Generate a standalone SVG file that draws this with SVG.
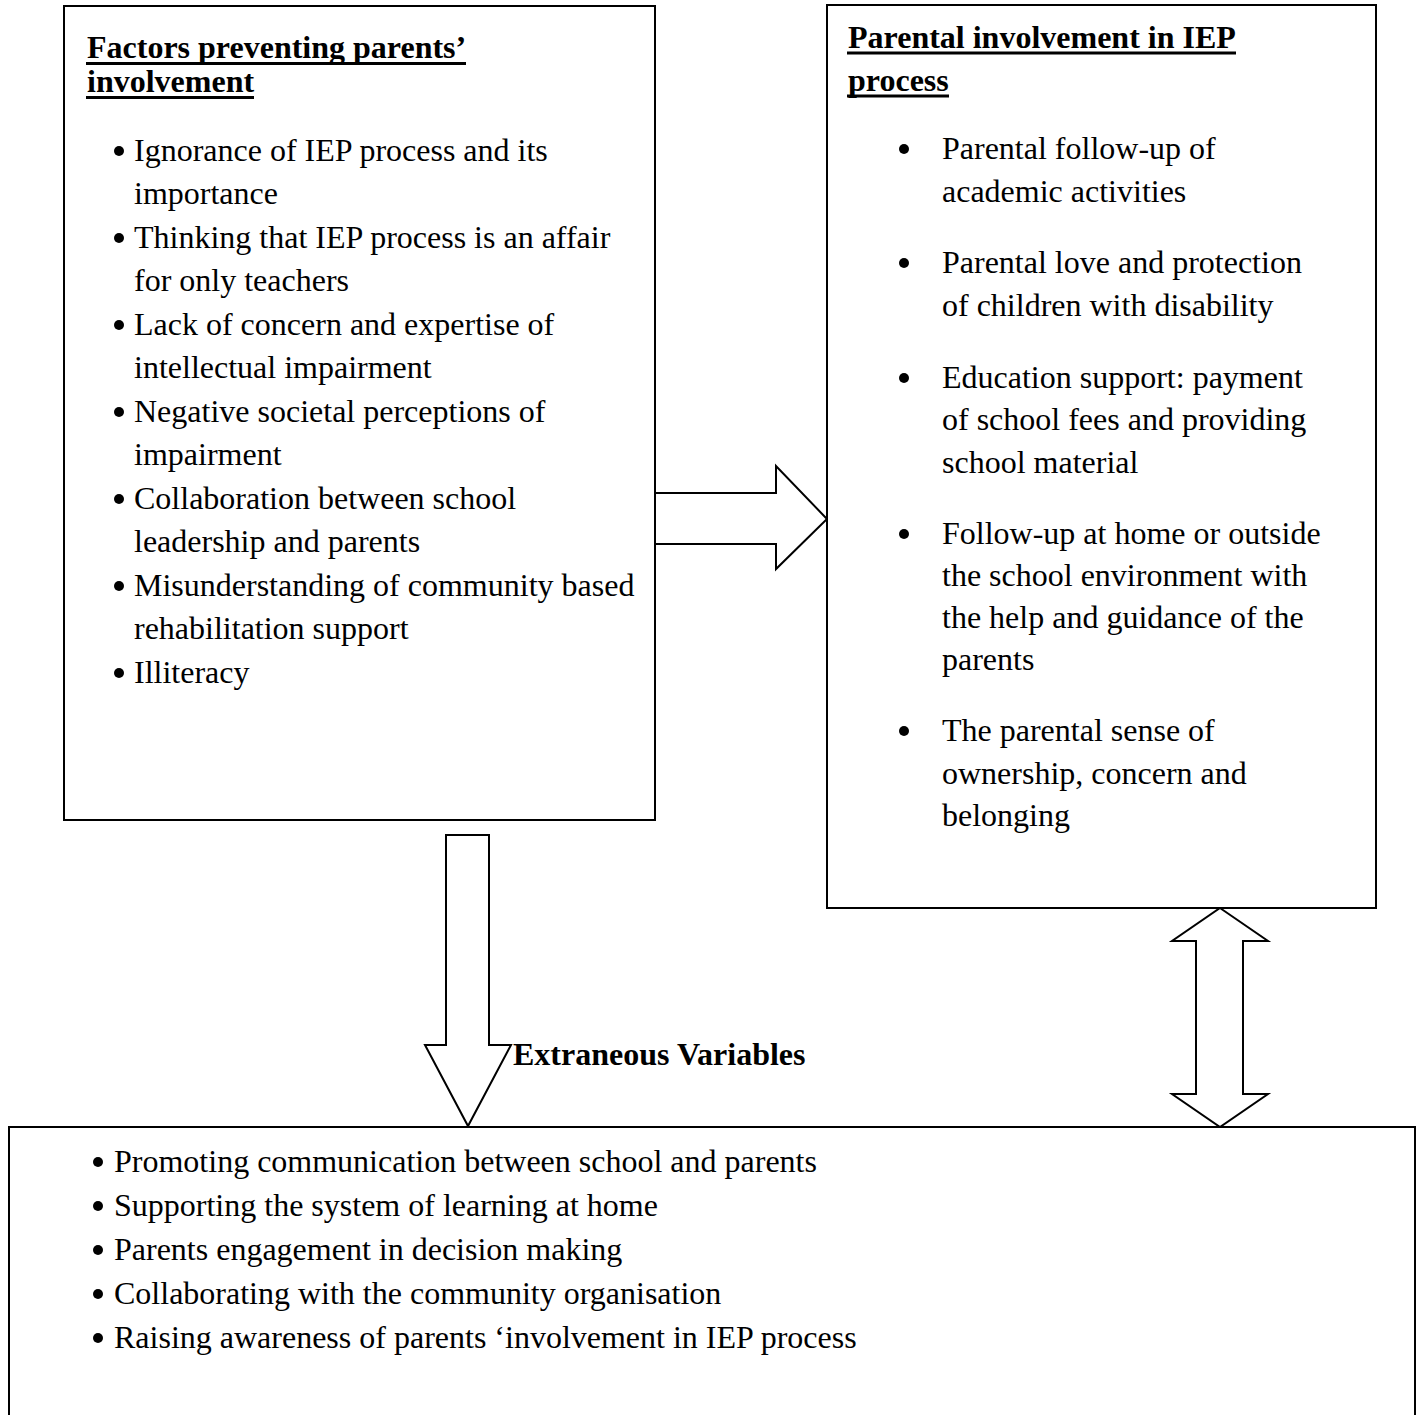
<svg xmlns="http://www.w3.org/2000/svg" width="1421" height="1415" viewBox="0 0 1421 1415">
<style>
text{font-family:"Liberation Serif","Times New Roman",serif;font-size:32px;fill:#000}
.h{font-weight:bold}
.b{font-weight:bold}
.ul{stroke:#000;stroke-width:3}
.box{fill:#fff;stroke:#000;stroke-width:2}
.arr{fill:#fff;stroke:#000;stroke-width:2;stroke-linejoin:miter}
</style>
<defs><circle id="dot" r="5" fill="#000"/></defs>
<rect width="1421" height="1415" fill="#fff"/>
<g id="connectors">
<polygon class="arr" points="654,493 776,493 776,466 827,519 776,569 776,544 654,544"/>
<polygon class="arr" points="446,835 489,835 489,1045 511,1045 468,1126 425,1045 446,1045"/>
<polygon class="arr" points="1220,908 1268,941 1243,941 1243,1094 1268,1094 1220,1127 1172,1094 1196,1094 1196,941 1172,941"/>
</g>
<g id="node-factors">
<rect class="box" x="64" y="6" width="591" height="814"/>
<text class="h" x="87" y="58">Factors preventing parents’</text>
<line class="ul" x1="86" y1="63.500" x2="466" y2="63.500"/>
<text class="h" x="87" y="92">involvement</text>
<line class="ul" x1="86" y1="97.500" x2="254" y2="97.500"/>
<use href="#dot" x="119" y="151"/><text x="134" y="161">Ignorance of IEP process and its</text>
<text x="134" y="204">importance</text>
<use href="#dot" x="119" y="238"/><text x="134" y="248">Thinking that IEP process is an affair</text>
<text x="134" y="291">for only teachers</text>
<use href="#dot" x="119" y="325"/><text x="134" y="335">Lack of concern and expertise of</text>
<text x="134" y="378">intellectual impairment</text>
<use href="#dot" x="119" y="412"/><text x="134" y="422">Negative societal perceptions of</text>
<text x="134" y="465">impairment</text>
<use href="#dot" x="119" y="499"/><text x="134" y="509">Collaboration between school</text>
<text x="134" y="552">leadership and parents</text>
<use href="#dot" x="119" y="586"/><text x="134" y="596">Misunderstanding of community based</text>
<text x="134" y="639">rehabilitation support</text>
<use href="#dot" x="119" y="673"/><text x="134" y="683">Illiteracy</text>
</g>
<g id="node-involvement">
<rect class="box" x="827" y="5" width="549" height="903"/>
<text class="h" x="848" y="48">Parental involvement in IEP</text>
<line class="ul" x1="847" y1="53" x2="1236" y2="53"/>
<text class="h" x="848" y="91">process</text>
<line class="ul" x1="847" y1="96" x2="949" y2="96"/>
<use href="#dot" x="904" y="149"/><text x="942" y="159">Parental follow-up of</text>
<text x="942" y="202">academic activities</text>
<use href="#dot" x="904" y="263"/><text x="942" y="273">Parental love and protection</text>
<text x="942" y="316">of children with disability</text>
<use href="#dot" x="904" y="378"/><text x="942" y="388">Education support: payment</text>
<text x="942" y="430">of school fees and providing</text>
<text x="942" y="473">school material</text>
<use href="#dot" x="904" y="534"/><text x="942" y="544">Follow-up at home or outside</text>
<text x="942" y="586">the school environment with</text>
<text x="942" y="628">the help and guidance of the</text>
<text x="942" y="670">parents</text>
<use href="#dot" x="904" y="731"/><text x="942" y="741">The parental sense of</text>
<text x="942" y="784">ownership, concern and</text>
<text x="942" y="826">belonging</text>
</g>
<g id="label-extraneous">
<text class="b" x="513" y="1065">Extraneous Variables</text>
</g>
<g id="node-strategies">
<rect class="box" x="9" y="1127" width="1406" height="300"/>
<use href="#dot" x="98" y="1162"/><text x="114" y="1172">Promoting communication between school and parents</text>
<use href="#dot" x="98" y="1206"/><text x="114" y="1216">Supporting the system of learning at home</text>
<use href="#dot" x="98" y="1250"/><text x="114" y="1260">Parents engagement in decision making</text>
<use href="#dot" x="98" y="1294"/><text x="114" y="1304">Collaborating with the community organisation</text>
<use href="#dot" x="98" y="1338"/><text x="114" y="1348">Raising awareness of parents ‘involvement in IEP process</text>
</g>
</svg>
